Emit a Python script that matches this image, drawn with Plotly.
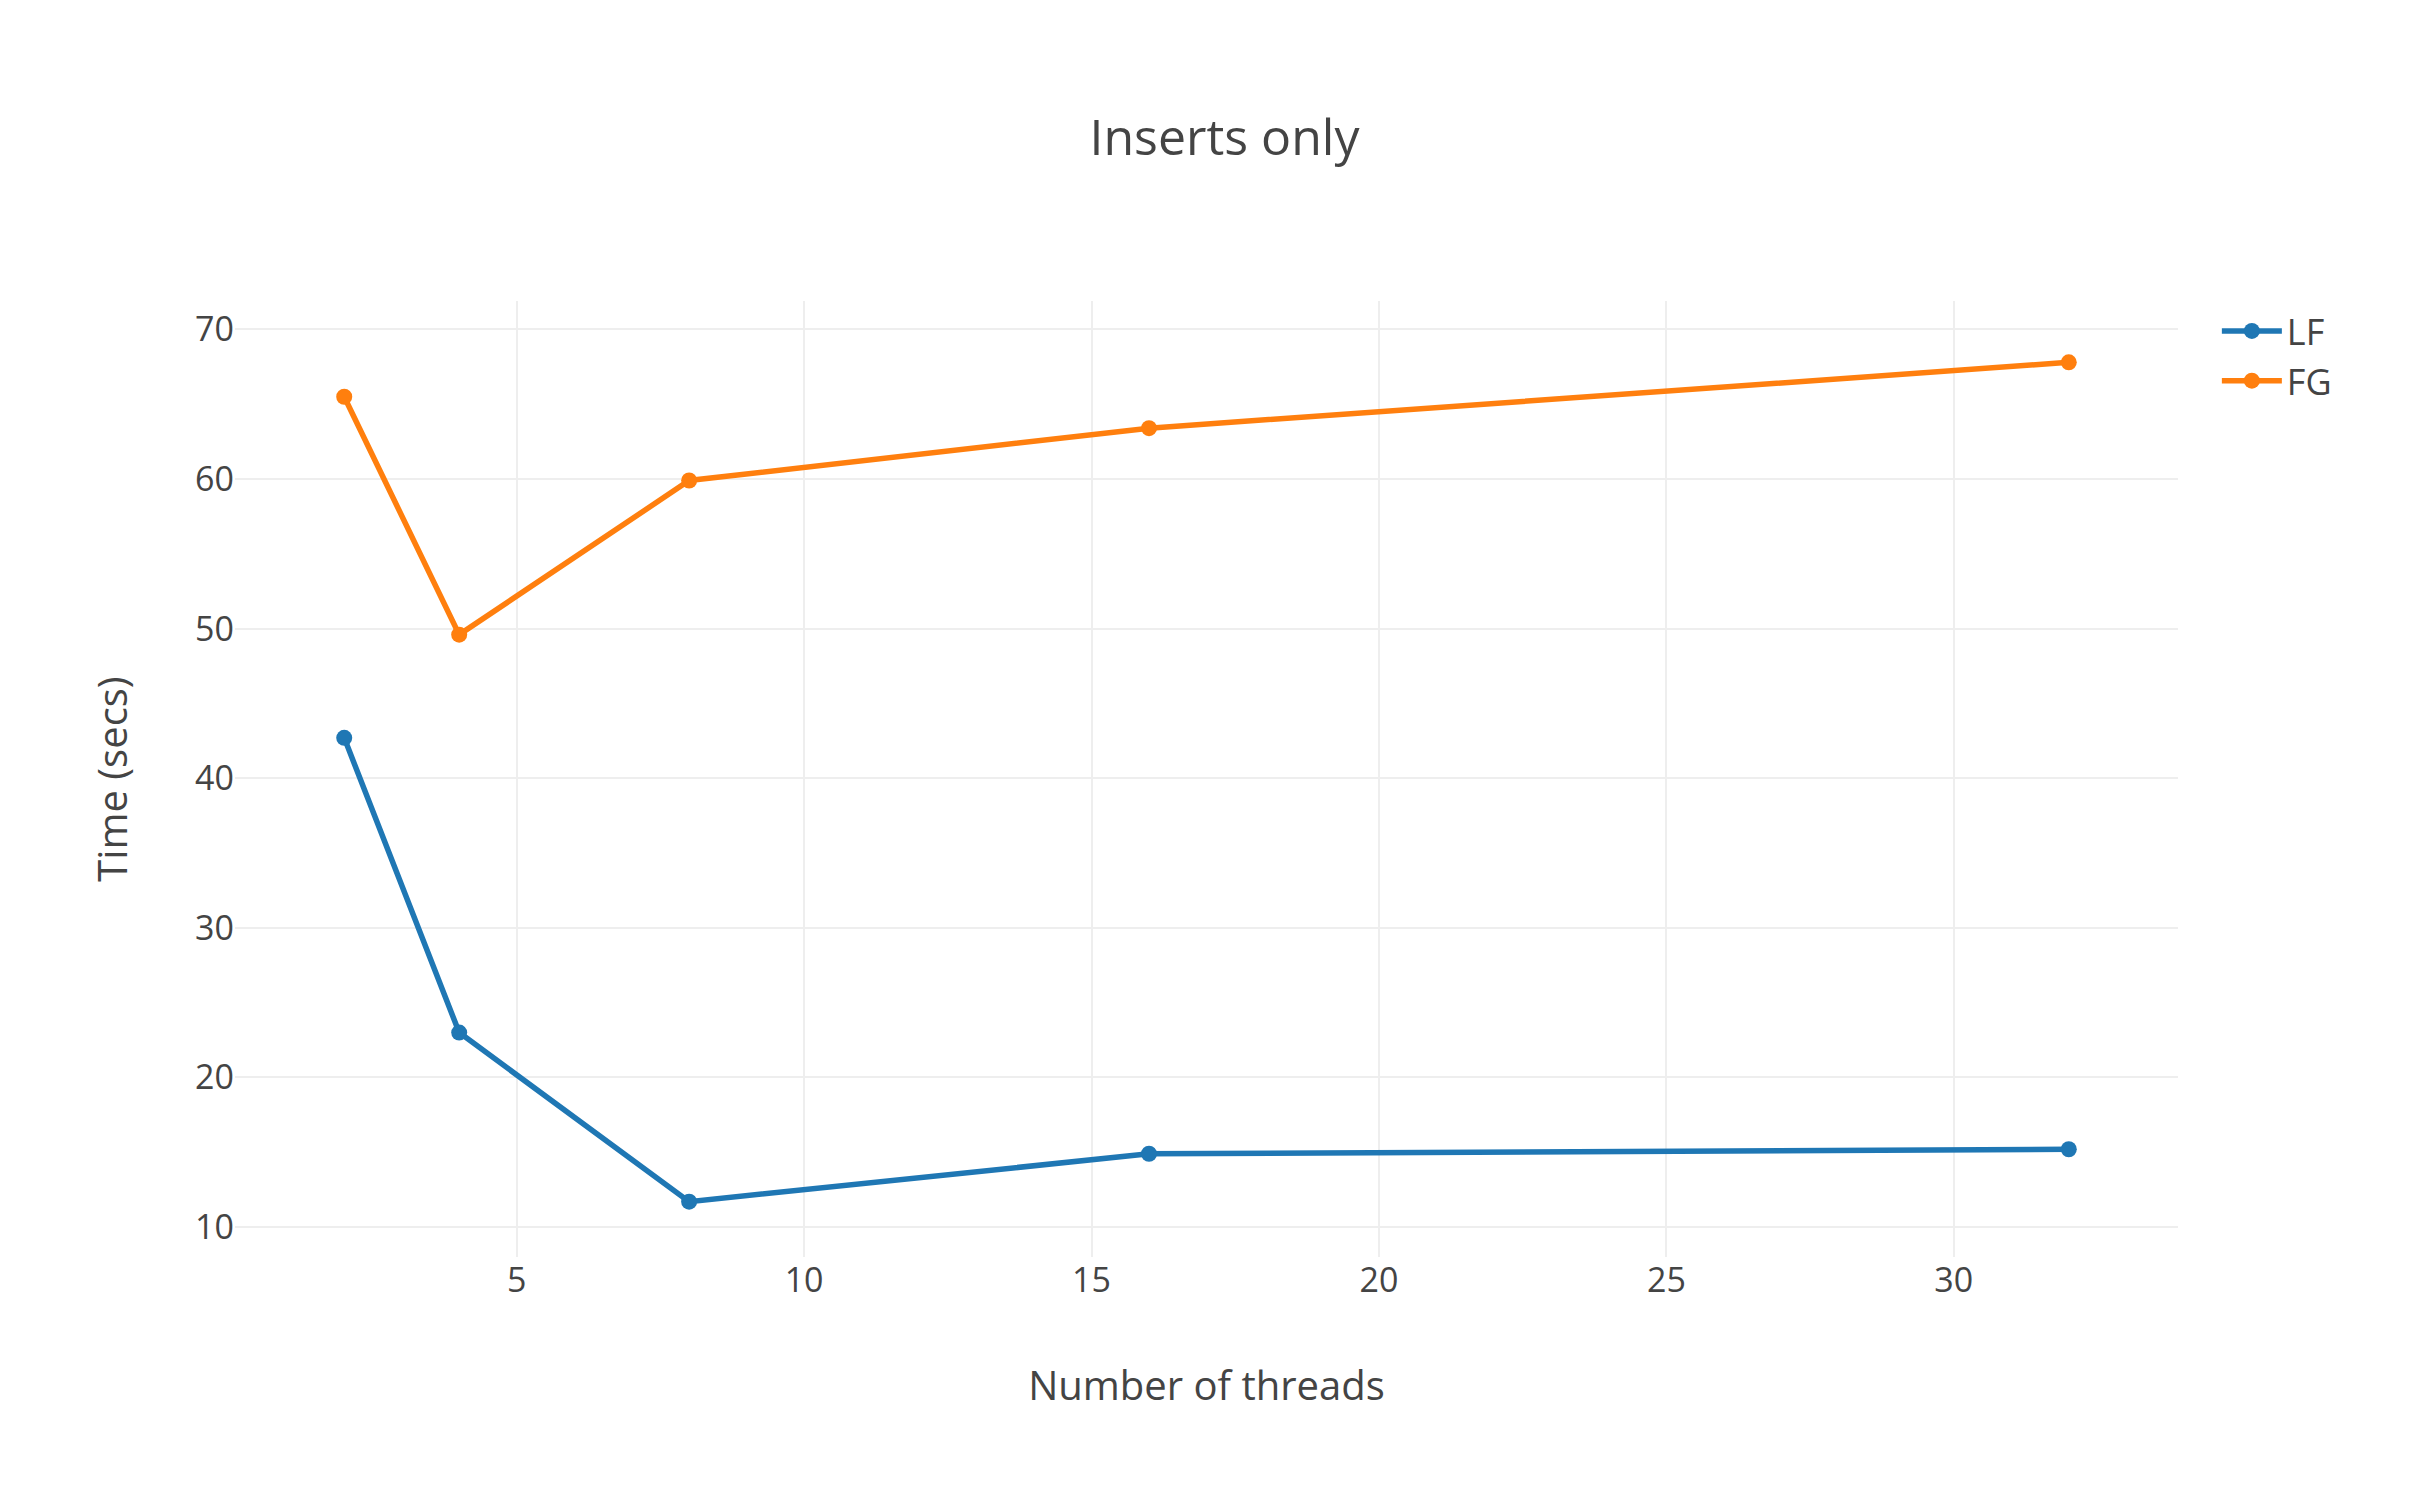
import plotly.graph_objects as go

threads = [2, 4, 8, 16, 32]
lf_times = [42.7, 23.0, 11.7, 14.9, 15.2]
fg_times = [65.5, 49.6, 59.9, 63.4, 67.8]

fig = go.Figure()
fig.add_trace(go.Scatter(x=threads, y=lf_times, name="LF", mode="lines+markers",
                         line=dict(color="#1f77b4", width=5.5), marker=dict(size=16)))
fig.add_trace(go.Scatter(x=threads, y=fg_times, name="FG", mode="lines+markers",
                         line=dict(color="#ff7f0e", width=5.5), marker=dict(size=16)))

fig.update_layout(
    width=2433, height=1497,
    template="plotly_white",
    font=dict(family="Open Sans", size=34, color="#444"),
    title=dict(text="Inserts only", x=0.5, y=0.925, xanchor="center", font=dict(size=50)),
    margin=dict(l=227, r=263, t=293, b=248),
    xaxis=dict(title=dict(text="Number of threads", font=dict(size=40), standoff=70),
               range=[0.1, 33.9], dtick=5, zeroline=False, showline=False,
               gridcolor="#eee", gridwidth=2),
    yaxis=dict(title=dict(text="Time (secs)", font=dict(size=40), standoff=55),
               range=[8.0, 71.9], dtick=10, zeroline=False, showline=False,
               gridcolor="#eee", gridwidth=2),
    legend=dict(x=1.02, y=1.0, font=dict(size=36), itemwidth=60, tracegroupgap=10),
    plot_bgcolor="white", paper_bgcolor="white",
)

fig.write_html("out.html")
